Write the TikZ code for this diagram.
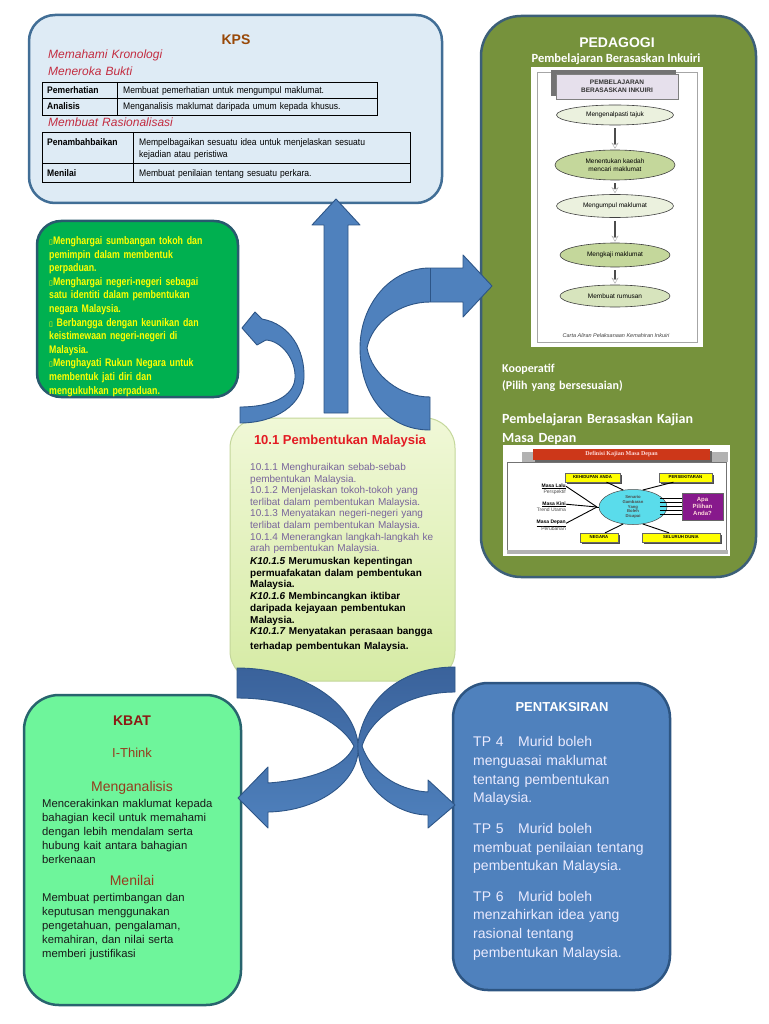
\documentclass[tikz,border=0pt]{standalone}
\usepackage{fontspec}
\setmainfont{Liberation Sans}
\newfontfamily\narrowf[FakeStretch=0.80]{Liberation Sans}
\newfontfamily\tblf[FakeStretch=0.9]{Liberation Sans}
\newfontfamily\calib{Carlito}
\newfontfamily\symf{DejaVu Sans}
\newfontfamily\serf{Liberation Serif}
\usetikzlibrary{arrows.meta,shapes.geometric,calc}
\definecolor{kpsfill}{RGB}{222,235,245}
\definecolor{kpsline}{RGB}{65,110,150}
\definecolor{grnfill}{RGB}{0,176,80}
\definecolor{grnline}{RGB}{40,90,110}
\definecolor{pedfill}{RGB}{118,146,60}
\definecolor{pedline}{RGB}{60,95,120}
\definecolor{kbatfill}{RGB}{110,245,155}
\definecolor{kbatline}{RGB}{40,100,110}
\definecolor{penfill}{RGB}{79,129,189}
\definecolor{penline}{RGB}{45,85,130}
\definecolor{ctrtop}{RGB}{240,248,215}
\definecolor{ctrbot}{RGB}{214,235,165}
\definecolor{ctrline}{RGB}{196,215,155}
\definecolor{arrblue}{RGB}{79,129,189}
\definecolor{arrdark}{RGB}{58,98,155}
\definecolor{arrline}{RGB}{45,85,135}
\definecolor{kpstitle}{RGB}{152,72,7}
\definecolor{kpsital}{RGB}{195,45,65}
\definecolor{ctrred}{RGB}{227,27,35}
\definecolor{ctrpurp}{RGB}{120,100,155}
\definecolor{kbatred}{RGB}{140,25,20}
\definecolor{kbatbrown}{RGB}{150,60,30}
\definecolor{ellA}{RGB}{235,241,222}
\definecolor{ellB}{RGB}{196,215,155}
\definecolor{ellC}{RGB}{215,228,189}
\definecolor{lavender}{RGB}{230,224,236}
\definecolor{hdrred}{RGB}{205,55,25}
\definecolor{ylw}{RGB}{255,255,0}
\definecolor{purp}{RGB}{135,25,140}
\definecolor{cyanell}{RGB}{90,220,235}
\begin{document}
\begin{tikzpicture}[x=1pt,y=-1pt,
  rbox/.style={draw, line width=2.5pt, inner sep=0pt},
  txt/.style={anchor=base west, inner sep=0pt, align=left, text width=#1},
  arrowsty/.style={fill=arrblue, draw=arrline, line width=0.9pt, line join=round},
  crosssty/.style={top color=arrdark, bottom color=arrblue, draw=arrline, line width=0.9pt, line join=round},
  tbl/.style={draw=black, line width=0.8pt},
  ell/.style={draw=black!75, line width=0.6pt},
  ybox/.style={fill=ylw, draw=black!60, line width=0.3pt},
  tiny/.style={font=\fontsize{4.3}{5}\selectfont\bfseries, inner sep=0pt}
]
\useasboundingbox (0,0) rectangle (768,1024);
\fill[white] (0,0) rectangle (768,1024);

% ---------- boxes ----------
\node[rbox, draw=kpsline, fill=kpsfill, rounded corners=26pt, minimum width=413pt, minimum height=188pt] (kps) at (235.5,109) {};
\node[rbox, draw=grnline, fill=grnfill, rounded corners=24pt, minimum width=201pt, minimum height=176pt] (nilai) at (137.5,309) {};
\node[rbox, draw=pedline, fill=pedfill, rounded corners=40pt, minimum width=275pt, minimum height=561pt] (ped) at (618.5,296.5) {};
\node[draw=ctrline, line width=1pt, top color=ctrtop, bottom color=ctrbot, rounded corners=30pt, minimum width=225pt, minimum height=263pt, inner sep=0pt] (ctr) at (342.5,549.5) {};
\node[rbox, draw=kbatline, fill=kbatfill, rounded corners=35pt, minimum width=217pt, minimum height=310pt] (kbat) at (132.5,850) {};
\node[rbox, draw=penline, fill=penfill, rounded corners=35pt, minimum width=217pt, minimum height=307pt] (pen) at (561.5,836.5) {};

% ---------- KPS ----------
\node[anchor=base, inner sep=0pt, font=\fontsize{14}{16}\selectfont\bfseries, text=kpstitle] (kpst) at (236,45) {KPS};
\node[txt=200pt, font=\fontsize{12}{17}\selectfont\itshape, text=kpsital] (kpsi1) at (48,59) {Memahami Kronologi\\Meneroka Bukti};
\draw[tbl] (42,82) rectangle (377,115);
\draw[tbl] (42,98) -- (377,98);
\draw[tbl] (117,82) -- (117,115);
\node[txt=70pt, font=\fontsize{9.5}{11}\selectfont\tblf\bfseries] (t1a) at (47,93.5) {Pemerhatian};
\node[txt=250pt, font=\fontsize{9.5}{11}\selectfont\tblf] (t1b) at (123,93.5) {Membuat pemerhatian untuk mengumpul maklumat.};
\node[txt=70pt, font=\fontsize{9.5}{11}\selectfont\tblf\bfseries] (t2a) at (47,109.5) {Analisis};
\node[txt=250pt, font=\fontsize{9.5}{11}\selectfont\tblf] (t2b) at (123,109.5) {Menganalisis maklumat daripada umum kepada khusus.};
\node[txt=200pt, font=\fontsize{12}{14}\selectfont\itshape, text=kpsital] (kpsi2) at (48,127) {Membuat Rasionalisasi};
\draw[tbl] (42,132) rectangle (410,182);
\draw[tbl] (42,163) -- (410,163);
\draw[tbl] (133,132) -- (133,182);
\node[txt=90pt, font=\fontsize{9.5}{11}\selectfont\tblf\bfseries] (t3a) at (47,145.5) {Penambahbaikan};
\node[txt=270pt, font=\fontsize{9.5}{12}\selectfont\tblf] (t3b) at (139,145.5) {Mempelbagaikan sesuatu idea untuk menjelaskan sesuatu\\kejadian atau peristiwa};
\node[txt=70pt, font=\fontsize{9.5}{11}\selectfont\tblf\bfseries] (t4a) at (47,176.5) {Menilai};
\node[txt=270pt, font=\fontsize{9.5}{11}\selectfont\tblf] (t4b) at (139,176.5) {Membuat penilaian tentang sesuatu perkara.};

% ---------- nilai (green) ----------
\newcommand{\tofu}{{\symf\fontsize{7}{8}\selectfont ▯}}
\node[txt=195pt, font=\fontsize{11}{13.6}\selectfont\narrowf\bfseries, text=ylw] (nilt) at (49,244.5) {\tofu Menghargai sumbangan tokoh dan\\pemimpin dalam membentuk\\perpaduan.\\\tofu Menghargai negeri-negeri sebagai\\satu identiti dalam pembentukan\\negara Malaysia.\\\tofu{} Berbangga dengan keunikan dan\\keistimewaan negeri-negeri di\\Malaysia.\\\tofu Menghayati Rukun Negara untuk\\membentuk jati diri dan\\mengukuhkan perpaduan.};

% ---------- centre ----------
\node[anchor=base, inner sep=0pt, font=\fontsize{13}{15}\selectfont\bfseries, text=ctrred] (ctrt) at (340,444.5) {10.1 Pembentukan Malaysia};
\node[txt=210pt, font=\fontsize{10}{11.6}\selectfont, text=ctrpurp] (ctrp) at (250,470.5) {10.1.1 Menghuraikan sebab-sebab\\pembentukan Malaysia.\\10.1.2 Menjelaskan tokoh-tokoh yang\\terlibat dalam pembentukan Malaysia.\\10.1.3 Menyatakan negeri-negeri yang\\terlibat dalam pembentukan Malaysia.\\10.1.4 Menerangkan langkah-langkah ke\\arah pembentukan Malaysia.};
\node[txt=210pt, font=\fontsize{10}{11.7}\selectfont\bfseries] (ctrk) at (250,564.5) {\textit{K10.1.5} Merumuskan kepentingan\\permuafakatan dalam pembentukan\\Malaysia.\\\textit{K10.1.6} Membincangkan iktibar\\daripada kejayaan pembentukan\\Malaysia.\\\textit{K10.1.7} Menyatakan perasaan bangga\\[3pt]terhadap pembentukan Malaysia.};

% ---------- pedagogi ----------
\node[anchor=base, inner sep=0pt, font=\fontsize{14}{16}\selectfont\bfseries, text=white] (pedt) at (617,47.5) {PEDAGOGI};
\node[anchor=base, inner sep=0pt, font=\fontsize{12.5}{14}\selectfont\calib\bfseries, text=white] (pedt2) at (616,63) {Pembelajaran Berasaskan Inkuiri};
% inkuiri chart
\fill[white] (531,67) rectangle (703,347);
\draw[black!35, line width=0.5pt] (537,72) rectangle (697,342);
\fill[black!55] (551,70) rectangle (676,96);
\node[draw=black!50, line width=0.4pt, fill=lavender, minimum width=122pt, minimum height=25pt, inner sep=0pt, align=center, font=\fontsize{6.5}{8}\selectfont\bfseries, text=black!80] (hdr) at (617,86.5) {PEMBELAJARAN\\BERASASKAN INKUIRI};
\node[ell, ellipse, fill=ellA, minimum width=117pt, minimum height=20pt, inner sep=0pt, font=\fontsize{6.5}{8}\selectfont] (e1) at (615,115) {Mengenalpasti tajuk};
\node[ell, ellipse, fill=ellB, minimum width=120pt, minimum height=30pt, inner sep=0pt, align=center, font=\fontsize{6.5}{8}\selectfont] (e2) at (615,165) {Menentukan kaedah\\mencari maklumat};
\node[ell, ellipse, fill=ellA, minimum width=117pt, minimum height=23pt, inner sep=0pt, font=\fontsize{6.5}{8}\selectfont] (e3) at (615,206) {Mengumpul maklumat};
\node[ell, ellipse, fill=ellB, minimum width=110pt, minimum height=24pt, inner sep=0pt, font=\fontsize{6.5}{8}\selectfont] (e4) at (615,255) {Mengkaji maklumat};
\node[ell, ellipse, fill=ellC, minimum width=110pt, minimum height=22pt, inner sep=0pt, font=\fontsize{6.5}{8}\selectfont] (e5) at (615,296) {Membuat rumusan};
\foreach \a/\b in {e1/e2,e2/e3,e3/e4,e4/e5}{
  \draw[black!70, line width=1.5pt, -{Stealth[length=6pt,width=7pt,fill=white,color=black!35,line width=0.4pt]}, shorten >=1pt, shorten <=3pt] (\a.south) -- (\b.north);
}
\node[anchor=base, inner sep=0pt, font=\fontsize{5.5}{7}\selectfont\itshape, text=black!75] (cap) at (616,337) {Carta Aliran Pelaksanaan Kemahiran Inkuiri};

\node[txt=200pt, font=\fontsize{12}{17}\selectfont\calib\bfseries, text=white] (koop) at (502,372) {Kooperatif\\(Pilih yang bersesuaian)};
\node[txt=230pt, font=\fontsize{14}{19}\selectfont\calib\bfseries, text=white] (pbkmd) at (502,423) {Pembelajaran Berasaskan Kajian\\Masa Depan};

% masa depan chart
\fill[white] (503,445) rectangle (730,556);
\fill[black!30] (522,452) rectangle (728,462);
\draw[black!55, line width=0.5pt] (507,462) rectangle (726,550);
\fill[black!30] (507,550) rectangle (728,554);
\fill[black!60] (535,451) rectangle (712,462);
\node[fill=hdrred, minimum width=177pt, minimum height=11pt, inner sep=0pt, font=\fontsize{6}{7}\selectfont\serf\bfseries, text=white!85!red] (mdh) at (621.5,454.5) {Definisi Kajian Masa Depan};
\node[fill=cyanell, draw=black!70, line width=0.5pt, ellipse, minimum width=68pt, minimum height=35pt, inner sep=0pt, align=center, font=\fontsize{4.2}{4.6}\selectfont\bfseries, text=black!70] (mde) at (633,507) {Senario\\Gambaran\\Yang\\Boleh\\Dicapai};
\fill[black!70] (567,475) rectangle (622,484);
\node[ybox, tiny, minimum width=55pt, minimum height=9pt] (y1) at (592.5,477.5) {KEHIDUPAN ANDA};
\fill[black!70] (661,475) rectangle (714,484);
\node[ybox, tiny, minimum width=53pt, minimum height=9pt] (y2) at (685.5,477.5) {PERSEKITARAN};
\fill[black!70] (582,535) rectangle (620,544);
\node[ybox, tiny, minimum width=38pt, minimum height=9pt] (y3) at (599,537.5) {NEGARA};
\fill[black!70] (644,535) rectangle (722,544);
\node[ybox, tiny, minimum width=78pt, minimum height=9pt] (y4) at (681,537.5) {SELURUH DUNIA};
\node[fill=purp, draw=black!60, line width=0.3pt, minimum width=41pt, minimum height=27pt, inner sep=0pt, align=center, font=\fontsize{6}{7}\selectfont\bfseries, text=pink!60] (mdp) at (702.5,506.5) {Apa\\Pilihan\\Anda?};
\draw[black, line width=0.9pt] ($(y1.south)+(14,0)$) -- (mde.120);
\draw[black, line width=0.9pt] ($(y2.south)+(-12,0)$) -- (mde.60);
\draw[black, line width=0.9pt] ($(y3.north)+(6,0)$) -- (mde.240);
\draw[black, line width=0.9pt] ($(y4.north)+(-12,0)$) -- (mde.300);
\foreach \k in {-8,-4,0,4,8}{\draw[black, line width=1.1pt] ($(mdp.west)+(-22,\k)$) -- ($(mdp.west)+(0,\k)$);}
\coordinate (mdj) at (597,507);
\node[anchor=base east, inner sep=0pt, font=\fontsize{5}{6}\selectfont\bfseries] (ml1) at (566,487) {\underline{Masa Lalu}};
\node[anchor=base east, inner sep=0pt, font=\fontsize{5}{6}\selectfont, text=black!70] (ml2) at (566,493.5) {Perspektif};
\node[anchor=base east, inner sep=0pt, font=\fontsize{5}{6}\selectfont\bfseries] (mk1) at (566,505) {\underline{Masa Kini}};
\node[anchor=base east, inner sep=0pt, font=\fontsize{5}{6}\selectfont, text=black!70] (mk2) at (566,511.5) {Trend Utama};
\node[anchor=base east, inner sep=0pt, font=\fontsize{5}{6}\selectfont\bfseries] (md1) at (566,523.5) {\underline{Masa Depan}};
\node[anchor=base east, inner sep=0pt, font=\fontsize{5}{6}\selectfont, text=black!70] (md2) at (566,530) {Perubahan};
\draw[black, line width=0.9pt] (ml1.east) -- (mdj);
\draw[black, line width=0.9pt] (mk1.east) -- (mdj);
\draw[black, line width=0.9pt] (md1.east) -- (mdj);
\draw[black, line width=0.9pt] (mdj) -- (mde.west);

% ---------- KBAT ----------
\node[anchor=base, inner sep=0pt, font=\fontsize{14}{16}\selectfont\bfseries, text=kbatred] (kbt) at (132,725) {KBAT};
\node[anchor=base, inner sep=0pt, font=\fontsize{13}{15}\selectfont, text=kbatbrown] (ithink) at (132,757) {I-Think};
\node[anchor=base, inner sep=0pt, font=\fontsize{14}{16}\selectfont, text=kbatbrown] (mgn) at (132,791.5) {Menganalisis};
\node[txt=195pt, font=\fontsize{11.3}{14}\selectfont, text=black!90] (mgnt) at (42,807) {Mencerakinkan maklumat kepada\\bahagian kecil untuk memahami\\dengan lebih mendalam serta\\hubung kait antara bahagian\\berkenaan};
\node[anchor=base, inner sep=0pt, font=\fontsize{14}{16}\selectfont, text=kbatbrown] (mnl) at (132,885) {Menilai};
\node[txt=195pt, font=\fontsize{11.3}{14}\selectfont, text=black!90] (mnlt) at (42,901) {Membuat pertimbangan dan\\keputusan menggunakan\\pengetahuan, pengalaman,\\kemahiran, dan nilai serta\\memberi justifikasi};

% ---------- PENTAKSIRAN ----------
\node[anchor=base, inner sep=0pt, font=\fontsize{13}{15}\selectfont\bfseries, text=white] (pent) at (562,711.5) {PENTAKSIRAN};
\node[txt=200pt, font=\fontsize{14}{18.8}\selectfont, text=white!92!blue] (pentb) at (473,746.5) {\makebox[45pt][l]{TP 4}Murid boleh\\menguasai maklumat\\tentang pembentukan\\Malaysia.\\[11.5pt]\makebox[45pt][l]{TP 5}Murid boleh\\membuat penilaian tentang\\pembentukan Malaysia.\\[11.5pt]\makebox[45pt][l]{TP 6}Murid boleh\\menzahirkan idea yang\\rasional tentang\\pembentukan Malaysia.};

% ---------- block arrows ----------
% up arrow to KPS
\draw[arrowsty] (324,413) -- (324,225) -- (312,225) -- (336,199) -- (360,225) -- (348,225) -- (348,413) -- cycle;
% curved arrow to pedagogi
\draw[arrowsty] (430,268) -- (463,268) -- (463,255) -- (492,286) -- (463,317) -- (463,302) -- (430,302)
  .. controls (400,302) and (372,322) .. (367,348)
  .. controls (372,375) and (400,397) .. (430,397)
  -- (430,430)
  .. controls (385,430) and (360,392) .. (360,348)
  .. controls (360,305) and (390,268) .. (430,268) -- cycle;
\draw[arrline, line width=0.9pt] (430,268) -- (430,302);
% curved arrow to nilai
\draw[arrowsty] (240,407) .. controls (272,407) and (294,396) .. (295,378)
  .. controls (296,360) and (282,341) .. (266,340)
  -- (257,345) -- (242,328) -- (255,312) -- (262,319)
  .. controls (290,324) and (305,350) .. (304,378)
  .. controls (303,405) and (275,423) .. (240,423) -- cycle;
% crossing arrows
\draw[crosssty] (237,668) .. controls (300,668) and (352,700) .. (358,743)
  .. controls (362,780) and (320,811) .. (268,812)
  -- (268,828) -- (238,798) -- (268,767) -- (268,783)
  .. controls (310,780) and (345,768) .. (354,746)
  .. controls (340,720) and (295,698) .. (237,698) -- cycle;
\draw[crosssty] (455,667) .. controls (400,667) and (364,700) .. (358,743)
  .. controls (356,785) and (395,815) .. (428,815)
  -- (428,828) -- (455,805) -- (428,780) -- (428,792)
  .. controls (395,790) and (370,770) .. (362,746)
  .. controls (372,715) and (410,692) .. (455,692) -- cycle;
\end{tikzpicture}
\end{document}
